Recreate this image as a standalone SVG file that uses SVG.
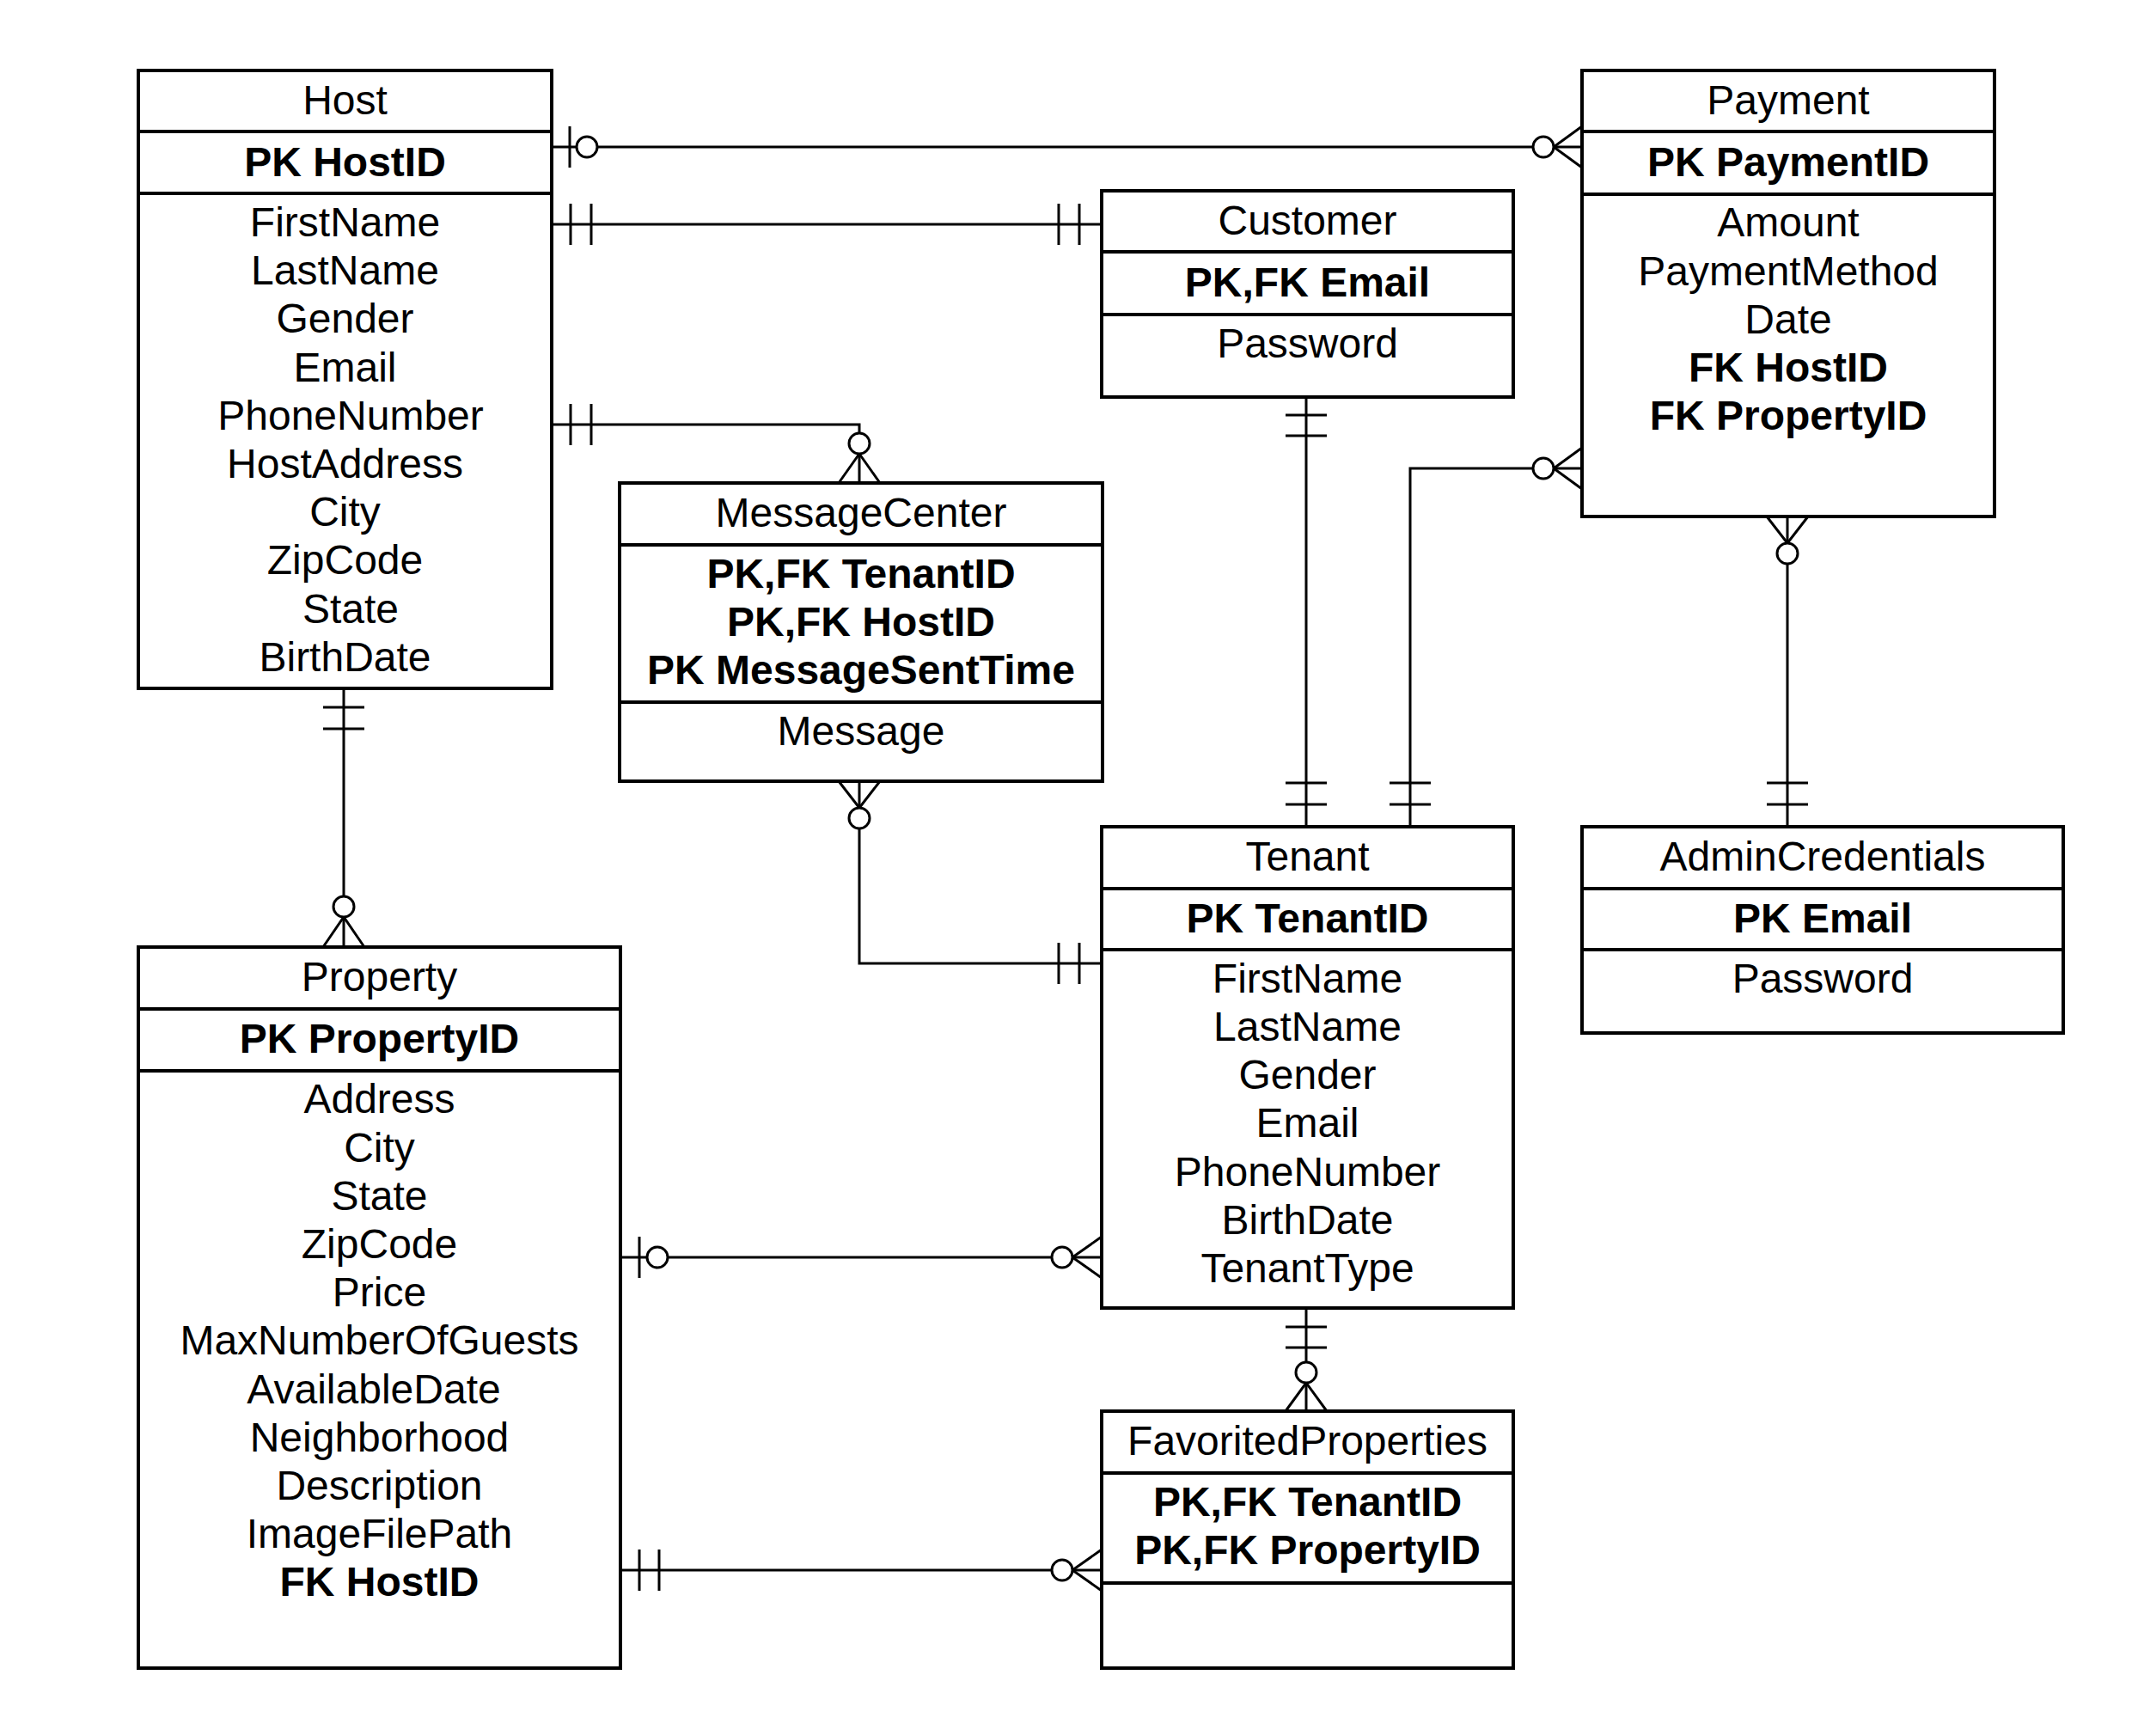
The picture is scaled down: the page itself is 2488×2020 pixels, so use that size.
<svg xmlns="http://www.w3.org/2000/svg" width="2488" height="2020" viewBox="0 0 2488 2020">
  <style>
    .box { fill: #fff; stroke: #000; stroke-width: 4; }
    .sep { stroke: #000; stroke-width: 4; }
    .t { font-family: "Liberation Sans", Arial, Helvetica, sans-serif; font-size: 48px; text-anchor: middle; fill: #000; }
    .b { font-weight: bold; }
    .ln { fill: none; stroke: #000; stroke-width: 3; }
    .o { fill: #fff; stroke: #000; stroke-width: 3; }
  </style>
  <rect x="0" y="0" width="2488" height="2020" fill="#fff"/>

  <!-- relationships -->
  <g id="connectors">
    <!-- Host 0..1 : Payment 0..N -->
    <g id="host-payment">
      <path class="ln" d="M642,171 H1841"/>
      <path class="ln" d="M663,147 V195"/>
      <circle class="o" cx="683" cy="171" r="12"/>
      <path class="ln" d="M1841,147 L1808,171 L1841,195"/>
      <circle class="o" cx="1796" cy="171" r="12"/>
    </g>
    <!-- Host 1 : Customer 1 -->
    <g id="host-customer">
      <path class="ln" d="M642,261 H1282"/>
      <path class="ln" d="M664,237 V285 M688,237 V285 M1232,237 V285 M1256,237 V285"/>
    </g>
    <!-- Host 1 : MessageCenter 0..N -->
    <g id="host-message">
      <path class="ln" d="M642,494 H1000 V562"/>
      <path class="ln" d="M664,470 V518 M688,470 V518"/>
      <path class="ln" d="M976,562 L1000,528 L1024,562"/>
      <circle class="o" cx="1000" cy="516" r="12"/>
    </g>
    <!-- Host 1 : Property 0..N -->
    <g id="host-property">
      <path class="ln" d="M400,801 V1102"/>
      <path class="ln" d="M376,823 H424 M376,848 H424"/>
      <path class="ln" d="M376,1102 L400,1067 L424,1102"/>
      <circle class="o" cx="400" cy="1055" r="12"/>
    </g>
    <!-- Customer 1 : Tenant 1 -->
    <g id="customer-tenant">
      <path class="ln" d="M1520,462 V962"/>
      <path class="ln" d="M1496,483 H1544 M1496,507 H1544 M1496,911 H1544 M1496,936 H1544"/>
    </g>
    <!-- Payment 0..N : Tenant 1 -->
    <g id="payment-tenant">
      <path class="ln" d="M1841,545 H1641 V962"/>
      <path class="ln" d="M1841,521 L1808,545 L1841,569"/>
      <circle class="o" cx="1796" cy="545" r="12"/>
      <path class="ln" d="M1617,911 H1665 M1617,936 H1665"/>
    </g>
    <!-- Payment 0..N : AdminCredentials 1 -->
    <g id="payment-admin">
      <path class="ln" d="M2080,601 V962"/>
      <path class="ln" d="M2056,601 L2080,632 L2104,601"/>
      <circle class="o" cx="2080" cy="644" r="12"/>
      <path class="ln" d="M2056,911 H2104 M2056,936 H2104"/>
    </g>
    <!-- MessageCenter 0..N : Tenant 1 -->
    <g id="message-tenant">
      <path class="ln" d="M1000,909 V1121 H1282"/>
      <path class="ln" d="M976,909 L1000,940 L1024,909"/>
      <circle class="o" cx="1000" cy="952" r="12"/>
      <path class="ln" d="M1232,1097 V1145 M1256,1097 V1145"/>
    </g>
    <!-- Property 0..1 : Tenant 0..N -->
    <g id="property-tenant">
      <path class="ln" d="M722,1463 H1282"/>
      <path class="ln" d="M744,1439 V1487"/>
      <circle class="o" cx="765" cy="1463" r="12"/>
      <path class="ln" d="M1282,1439 L1248,1463 L1282,1487"/>
      <circle class="o" cx="1236" cy="1463" r="12"/>
    </g>
    <!-- Tenant 1 : FavoritedProperties 0..N -->
    <g id="tenant-favorited">
      <path class="ln" d="M1520,1522 V1642"/>
      <path class="ln" d="M1496,1544 H1544 M1496,1568 H1544"/>
      <path class="ln" d="M1496,1642 L1520,1609 L1544,1642"/>
      <circle class="o" cx="1520" cy="1597" r="12"/>
    </g>
    <!-- Property 1 : FavoritedProperties 0..N -->
    <g id="property-favorited">
      <path class="ln" d="M722,1827 H1282"/>
      <path class="ln" d="M744,1803 V1851 M767,1803 V1851"/>
      <path class="ln" d="M1282,1803 L1248,1827 L1282,1851"/>
      <circle class="o" cx="1236" cy="1827" r="12"/>
    </g>
  </g>

  <!-- Host -->
  <g id="host">
    <rect class="box" x="161" y="82" width="481" height="719"/>
    <path class="sep" d="M161,153 H642 M161,225 H642"/>
    <text class="t" x="401.5" y="132.5">Host</text>
    <text class="t b" x="401.5" y="205">PK HostID</text>
    <text class="t" x="401.5" y="275">FirstName</text>
    <text class="t" x="401.5" y="331.2">LastName</text>
    <text class="t" x="401.5" y="387.4">Gender</text>
    <text class="t" x="401.5" y="443.6">Email</text>
    <text class="t" x="408" y="499.8">PhoneNumber</text>
    <text class="t" x="401.5" y="556">HostAddress</text>
    <text class="t" x="401.5" y="612.2">City</text>
    <text class="t" x="401.5" y="668.4">ZipCode</text>
    <text class="t" x="408" y="724.6">State</text>
    <text class="t" x="401.5" y="780.8">BirthDate</text>
  </g>

  <!-- Payment -->
  <g id="payment">
    <rect class="box" x="1841" y="82" width="480" height="519"/>
    <path class="sep" d="M1841,153 H2321 M1841,226 H2321"/>
    <text class="t" x="2081" y="132.5">Payment</text>
    <text class="t b" x="2081" y="205">PK PaymentID</text>
    <text class="t" x="2081" y="275.4">Amount</text>
    <text class="t" x="2081" y="331.6">PaymentMethod</text>
    <text class="t" x="2081" y="387.8">Date</text>
    <text class="t b" x="2081" y="444">FK HostID</text>
    <text class="t b" x="2081" y="500.2">FK PropertyID</text>
  </g>

  <!-- Customer -->
  <g id="customer">
    <rect class="box" x="1282" y="222" width="479" height="240"/>
    <path class="sep" d="M1282,293 H1761 M1282,366 H1761"/>
    <text class="t" x="1521.5" y="272.5">Customer</text>
    <text class="t b" x="1521.5" y="344.5">PK,FK Email</text>
    <text class="t" x="1521.5" y="415.7">Password</text>
  </g>

  <!-- MessageCenter -->
  <g id="messagecenter">
    <rect class="box" x="721" y="562" width="562" height="347"/>
    <path class="sep" d="M721,634 H1283 M721,817 H1283"/>
    <text class="t" x="1002" y="613">MessageCenter</text>
    <text class="t b" x="1002" y="684">PK,FK TenantID</text>
    <text class="t b" x="1002" y="740">PK,FK HostID</text>
    <text class="t b" x="1002" y="796">PK MessageSentTime</text>
    <text class="t" x="1002" y="867">Message</text>
  </g>

  <!-- Tenant -->
  <g id="tenant">
    <rect class="box" x="1282" y="962" width="479" height="560"/>
    <path class="sep" d="M1282,1034 H1761 M1282,1105 H1761"/>
    <text class="t" x="1521.5" y="1013">Tenant</text>
    <text class="t b" x="1521.5" y="1084.5">PK TenantID</text>
    <text class="t" x="1521.5" y="1154.7">FirstName</text>
    <text class="t" x="1521.5" y="1210.9">LastName</text>
    <text class="t" x="1521.5" y="1267.1">Gender</text>
    <text class="t" x="1521.5" y="1323.3">Email</text>
    <text class="t" x="1521.5" y="1379.5">PhoneNumber</text>
    <text class="t" x="1521.5" y="1435.7">BirthDate</text>
    <text class="t" x="1521.5" y="1491.9">TenantType</text>
  </g>

  <!-- AdminCredentials -->
  <g id="admincredentials">
    <rect class="box" x="1841" y="962" width="560" height="240"/>
    <path class="sep" d="M1841,1034 H2401 M1841,1105 H2401"/>
    <text class="t" x="2121" y="1013">AdminCredentials</text>
    <text class="t b" x="2121" y="1084.5">PK Email</text>
    <text class="t" x="2121" y="1154.7">Password</text>
  </g>

  <!-- Property -->
  <g id="property">
    <rect class="box" x="161" y="1102" width="561" height="839"/>
    <path class="sep" d="M161,1174 H722 M161,1246 H722"/>
    <text class="t" x="441.5" y="1153">Property</text>
    <text class="t b" x="441.5" y="1225">PK PropertyID</text>
    <text class="t" x="441.5" y="1295.4">Address</text>
    <text class="t" x="441.5" y="1351.6">City</text>
    <text class="t" x="441.5" y="1407.8">State</text>
    <text class="t" x="441.5" y="1464">ZipCode</text>
    <text class="t" x="441.5" y="1520.2">Price</text>
    <text class="t" x="441.5" y="1576.4">MaxNumberOfGuests</text>
    <text class="t" x="435" y="1632.6">AvailableDate</text>
    <text class="t" x="441.5" y="1688.8">Neighborhood</text>
    <text class="t" x="441.5" y="1745">Description</text>
    <text class="t" x="441.5" y="1801.2">ImageFilePath</text>
    <text class="t b" x="441.5" y="1857.4">FK HostID</text>
  </g>

  <!-- FavoritedProperties -->
  <g id="favoritedproperties">
    <rect class="box" x="1282" y="1642" width="479" height="299"/>
    <path class="sep" d="M1282,1714 H1761 M1282,1842 H1761"/>
    <text class="t" x="1521.5" y="1693">FavoritedProperties</text>
    <text class="t b" x="1521.5" y="1764">PK,FK TenantID</text>
    <text class="t b" x="1521.5" y="1820">PK,FK PropertyID</text>
  </g>
</svg>
